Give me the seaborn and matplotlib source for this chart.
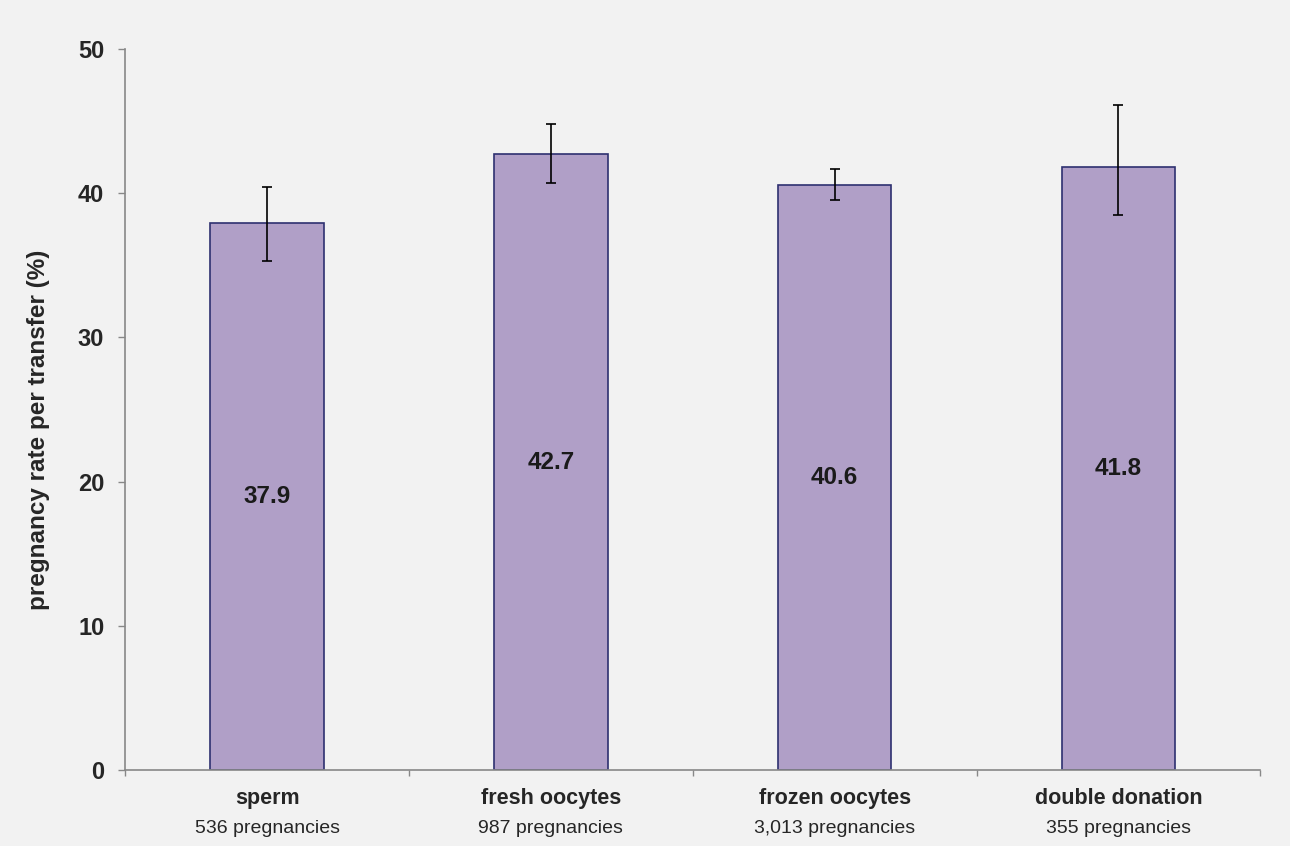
import numpy as np
import pandas as pd
import matplotlib
matplotlib.use("Agg")
import matplotlib.pyplot as plt
import seaborn as sns

categories = ["sperm", "fresh oocytes", "frozen oocytes", "double donation"]
counts = ["536 pregnancies", "987 pregnancies", "3,013 pregnancies", "355 pregnancies"]
rates = [37.9, 42.7, 40.6, 41.8]
ci_low = [35.3, 40.7, 39.5, 38.5]
ci_high = [40.4, 44.8, 41.7, 46.1]

df = pd.DataFrame({"group": categories, "rate": rates})

sns.set_style("white")
plt.rcParams["font.family"] = ["Liberation Sans", "DejaVu Sans"]

bg = "#f2f2f2"
fig = plt.figure(figsize=(12.9, 8.46), dpi=100, facecolor=bg)
ax = fig.add_axes([0.097, 0.09, 0.88, 0.852], facecolor=bg)

sns.barplot(data=df, x="group", y="rate", color="#b09fc7", edgecolor="#2e3070",
            linewidth=1.2, width=0.4, saturation=1, errorbar=None, ax=ax)

x = np.arange(len(categories))
yerr = [np.array(rates) - np.array(ci_low), np.array(ci_high) - np.array(rates)]
ax.errorbar(x, rates, yerr=yerr, fmt="none", ecolor="black", elinewidth=1.2,
            capsize=3.5, capthick=1.2)

for i, v in enumerate(rates):
    ax.text(i, v / 2, f"{v:.1f}", ha="center", va="center", fontsize=17.5,
            fontweight="bold", color="#1a1a1a")

ax.set_xlim(-0.5, 3.5)
ax.set_ylim(0, 50)
ax.set_yticks(range(0, 51, 10))
ax.set_yticklabels([str(t) for t in range(0, 51, 10)], fontsize=17, fontweight="bold")
ax.set_xticks(x)
ax.set_xticklabels([])
ax.set_xticks([-0.5, 0.5, 1.5, 2.5, 3.5], minor=True)
ax.tick_params(axis="x", which="major", bottom=False, length=0)
ax.tick_params(axis="x", which="minor", bottom=True, length=4, width=1, color="#888888", direction="out")
ax.tick_params(axis="y", left=True, length=5, width=1, color="#888888", direction="out", pad=10)

for i in range(len(categories)):
    ax.text(i, -0.04, categories[i], transform=ax.get_xaxis_transform(),
            ha="center", va="center", fontsize=15.5, fontweight="bold")
    ax.text(i, -0.081, counts[i], transform=ax.get_xaxis_transform(),
            ha="center", va="center", fontsize=14)

ax.set_xlabel("")
ax.set_ylabel("pregnancy rate per transfer (%)", fontsize=17.5, fontweight="bold")
ax.yaxis.set_label_coords(-0.066, 0.472)

for s in ["top", "right"]:
    ax.spines[s].set_visible(False)
for s in ["left", "bottom"]:
    ax.spines[s].set_color("#888888")
    ax.spines[s].set_linewidth(1.2)

fig.savefig("out.png", dpi=100, facecolor=bg)
